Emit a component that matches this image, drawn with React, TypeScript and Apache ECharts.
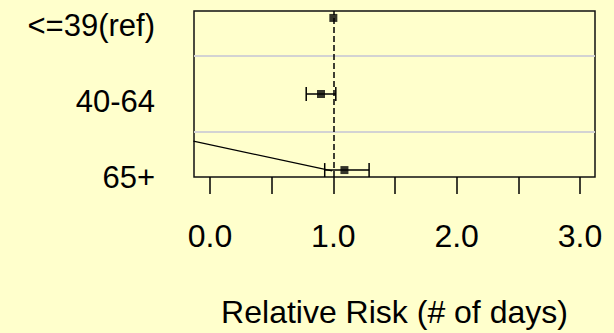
import React, { useEffect, useRef } from 'react';
import * as echarts from 'echarts';

const categories = ['<=39(ref)', '40-64', '65+'];
const rowPositions = [3, 2, 1];
const relativeRisk = [1.0, 0.9, 1.09];
const ciLower: (number | null)[] = [null, 0.78, 0.93];
const ciUpper: (number | null)[] = [null, 1.02, 1.29];
const xTickValues = [0, 0.5, 1, 1.5, 2, 2.5, 3];
const xLabelValues = [0, 1, 2, 3];
const separatorValues = [1.5, 2.5];
const referenceValue = 1.0;
const strayLineX = [-0.135, 0.99];
const strayLineY = [1.38, 0.99];
const xAxisTitle = 'Relative Risk (# of days)';

const FONT = "'Liberation Sans', Arial, sans-serif";
const BG = '#FFFFCC';

export default function App() {
  const ref = useRef<HTMLDivElement>(null);
  useEffect(() => {
    document.body.style.margin = '0';
    const chart = echarts.init(ref.current!, null, { renderer: 'svg' });
    const points = relativeRisk.map((v, i) => [v, rowPositions[i]]);
    const bars = rowPositions
      .map((p, i) => (ciLower[i] == null ? null : [ciLower[i], ciUpper[i], p]))
      .filter((d) => d !== null);
    const stray = strayLineX.map((x, i) => [x, strayLineY[i]]);
    const blackLine = { stroke: '#000', lineWidth: 1.5 };
    chart.setOption({
      animation: false,
      backgroundColor: BG,
      grid: {
        left: 194,
        top: 11,
        right: 19,
        bottom: 154,
        show: true,
        borderColor: '#111',
        borderWidth: 1.5,
        backgroundColor: 'transparent',
      },
      xAxis: {
        type: 'value',
        min: -0.13,
        max: 3.122,
        axisLine: { show: false },
        splitLine: { show: false },
        axisTick: {
          show: true,
          inside: false,
          length: 17,
          customValues: xTickValues,
          lineStyle: { color: '#000', width: 1.5 },
        },
        axisLabel: {
          customValues: xLabelValues,
          formatter: (v: number) => v.toFixed(1),
          fontSize: 32,
          fontFamily: FONT,
          color: '#000',
          margin: 43,
        },
        name: xAxisTitle,
        nameLocation: 'middle',
        nameGap: 119,
        nameTextStyle: { fontSize: 32, fontFamily: FONT, color: '#000' },
      },
      yAxis: {
        type: 'value',
        min: 0.909,
        max: 3.091,
        axisLine: { show: false },
        axisTick: { show: false },
        splitLine: { show: false },
        axisLabel: {
          customValues: rowPositions,
          formatter: (v: number) => categories[rowPositions.indexOf(Math.round(v))] ?? '',
          fontSize: 31,
          fontFamily: FONT,
          color: '#000',
          margin: 39,
          verticalAlign: 'top',
          padding: [-8, 0, 0, 0],
        },
      },
      series: [
        {
          type: 'line',
          data: stray,
          showSymbol: false,
          symbol: 'none',
          lineStyle: { color: '#000', width: 1.2 },
          silent: true,
          z: 3,
        },
        {
          type: 'custom',
          data: bars,
          encode: { x: [0, 1], y: 2 },
          renderItem: (params: any, api: any) => {
            const y = api.value(2);
            const l = api.coord([api.value(0), y]);
            const u = api.coord([api.value(1), y]);
            return {
              type: 'group',
              children: [
                { type: 'line', shape: { x1: l[0], y1: l[1], x2: u[0], y2: u[1] }, style: blackLine },
                { type: 'line', shape: { x1: l[0], y1: l[1] - 7, x2: l[0], y2: l[1] + 7 }, style: blackLine },
                { type: 'line', shape: { x1: u[0], y1: u[1] - 7, x2: u[0], y2: u[1] + 7 }, style: blackLine },
              ],
            };
          },
          z: 4,
        },
        {
          type: 'scatter',
          data: points,
          symbol: 'rect',
          symbolSize: 8,
          itemStyle: { color: '#000' },
          z: 5,
          markLine: {
            silent: true,
            symbol: 'none',
            label: { show: false },
            data: [
              ...separatorValues.map((v) => ({
                yAxis: v,
                lineStyle: { color: '#D3D3D3', width: 2, type: 'solid' },
              })),
              {
                xAxis: referenceValue,
                lineStyle: { color: '#000', width: 1.5, type: [6, 3] },
              },
            ],
          },
        },
      ],
    });
    return () => chart.dispose();
  }, []);
  return (
    <div
      ref={ref}
      style={{ position: 'fixed', left: 0, top: 0, width: 614, height: 333, background: BG }}
    />
  );
}
